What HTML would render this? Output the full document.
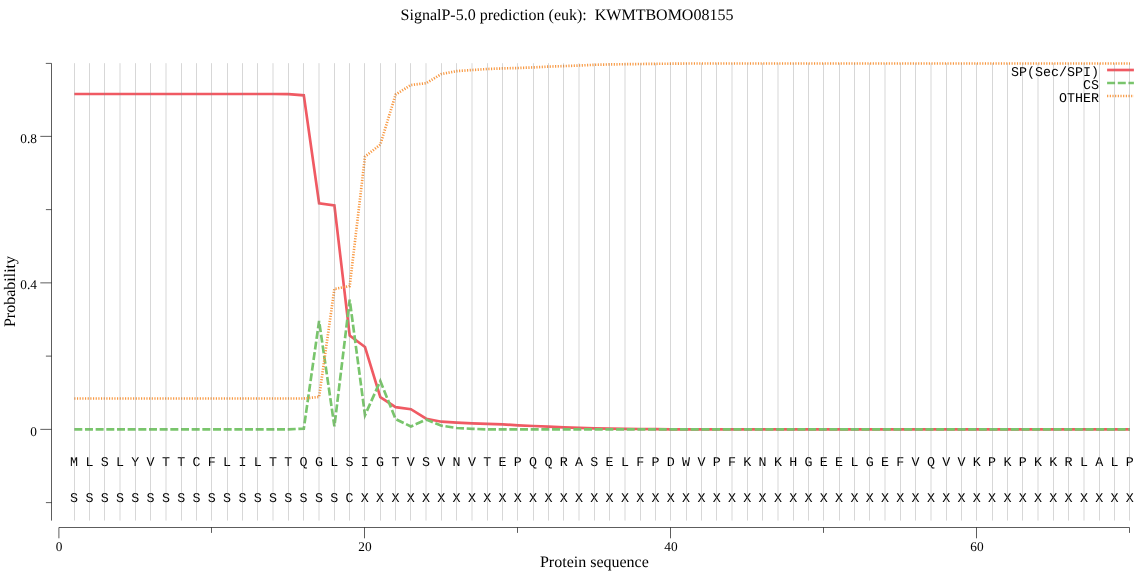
<!DOCTYPE html>
<html lang="en">
<head>
<meta charset="utf-8">
<title>SignalP-5.0 prediction (euk): KWMTBOMO08155</title>
<style>
html,body{margin:0;padding:0;background:#fff;}
body{width:1139px;height:572px;overflow:hidden;}
svg{display:block;text-rendering:geometricPrecision;}
.serif{font-family:"Liberation Serif","Times New Roman",serif;fill:#000;}
.mono{font-family:"Liberation Mono","Courier New",monospace;fill:#000;}
</style>
</head>
<body>
<svg width="1139" height="572" viewBox="0 0 1139 572" text-rendering="geometricPrecision">
<rect x="0" y="0" width="1139" height="572" fill="#ffffff"/>
<path d="M45.8,63.4H51.5V520.6M40.30,136.37H51.5M45.90,209.62H51.5M40.30,282.87H51.5M45.90,356.12H51.5M40.30,429.37H51.5M45.90,502.62H51.5M58.9,538.3V527.5H1129.5V532.9M211.50,527.5V532.9M364.50,527.5V538.3M517.50,527.5V532.9M670.50,527.5V538.3M823.50,527.5V532.9M976.50,527.5V538.3" stroke="#000" stroke-width="0.64" fill="none"/>
<g class="serif" font-size="13.33">
<text x="37" y="142.9" text-anchor="end">0.8</text>
<text x="37" y="289.4" text-anchor="end">0.4</text>
<text x="37" y="435.9" text-anchor="end">0</text>
<text x="59.0" y="551.1" text-anchor="middle">0</text>
<text x="365.0" y="551.1" text-anchor="middle">20</text>
<text x="671.0" y="551.1" text-anchor="middle">40</text>
<text x="977.0" y="551.1" text-anchor="middle">60</text>
</g>
<text class="serif" font-size="16" x="567" y="20.2" text-anchor="middle" style="white-space:pre">SignalP-5.0 prediction (euk):  KWMTBOMO08155</text>
<text class="serif" font-size="16" x="594.4" y="566.6" text-anchor="middle">Protein sequence</text>
<text class="serif" font-size="16" transform="translate(15.4,291.5) rotate(-90)" text-anchor="middle">Probability</text>
<g fill="none" stroke-width="2.67" stroke-linejoin="miter">
<path d="M74.30,94.0 L89.60,94.0 L104.90,94.0 L120.20,94.0 L135.50,94.0 L150.80,94.0 L166.10,94.0 L181.40,94.0 L196.70,94.0 L212.00,94.0 L227.30,94.0 L242.60,94.0 L257.90,94.0 L273.20,94.0 L288.50,94.2 L303.80,95.3 L319.10,203.3 L334.40,205.5 L349.70,335.6 L365.00,347.0 L380.30,397.1 L395.60,407.1 L410.90,409.2 L426.20,418.7 L441.50,421.7 L456.80,422.6 L472.10,423.4 L487.40,423.9 L502.70,424.4 L518.00,425.3 L533.30,426.0 L548.60,426.7 L563.90,427.3 L579.20,427.8 L594.50,428.3 L609.80,428.6 L625.10,428.8 L640.40,429.0 L655.70,429.2 L671.00,429.3 L686.30,429.3 L701.60,429.3 L716.90,429.3 L732.20,429.3 L747.50,429.3 L762.80,429.3 L778.10,429.3 L793.40,429.3 L808.70,429.3 L824.00,429.3 L839.30,429.3 L854.60,429.3 L869.90,429.3 L885.20,429.3 L900.50,429.3 L915.80,429.3 L931.10,429.3 L946.40,429.3 L961.70,429.3 L977.00,429.3 L992.30,429.3 L1007.60,429.3 L1022.90,429.3 L1038.20,429.3 L1053.50,429.3 L1068.80,429.3 L1084.10,429.3 L1099.40,429.3 L1114.70,429.3 L1130.00,429.3" stroke="#f05a63"/>
<path d="M74.30,429.4 L89.60,429.4 L104.90,429.4 L120.20,429.4 L135.50,429.4 L150.80,429.4 L166.10,429.4 L181.40,429.4 L196.70,429.4 L212.00,429.4 L227.30,429.4 L242.60,429.4 L257.90,429.4 L273.20,429.4 L288.50,429.4 L303.80,428.6 L319.10,321.0 L334.40,426.4 L349.70,299.7 L365.00,415.2 L380.30,381.0 L395.60,419.0 L410.90,426.5 L426.20,419.6 L441.50,425.7 L456.80,428.0 L472.10,428.8 L487.40,429.4 L502.70,429.4 L518.00,429.4 L533.30,429.4 L548.60,429.4 L563.90,429.4 L579.20,429.4 L594.50,429.4 L609.80,429.4 L625.10,429.4 L640.40,429.4 L655.70,429.4 L671.00,429.4 L686.30,429.4 L701.60,429.4 L716.90,429.4 L732.20,429.4 L747.50,429.4 L762.80,429.4 L778.10,429.4 L793.40,429.4 L808.70,429.4 L824.00,429.4 L839.30,429.4 L854.60,429.4 L869.90,429.4 L885.20,429.4 L900.50,429.4 L915.80,429.4 L931.10,429.4 L946.40,429.4 L961.70,429.4 L977.00,429.4 L992.30,429.4 L1007.60,429.4 L1022.90,429.4 L1038.20,429.4 L1053.50,429.4 L1068.80,429.4 L1084.10,429.4 L1099.40,429.4 L1114.70,429.4 L1130.00,429.4" stroke="#79c56c" stroke-dasharray="8 2.67"/>
<path d="M74.30,398.5 L89.60,398.5 L104.90,398.5 L120.20,398.5 L135.50,398.5 L150.80,398.5 L166.10,398.5 L181.40,398.5 L196.70,398.5 L212.00,398.5 L227.30,398.5 L242.60,398.5 L257.90,398.5 L273.20,398.5 L288.50,398.5 L303.80,398.5 L319.10,396.9 L334.40,288.9 L349.70,286.1 L365.00,156.6 L380.30,144.6 L395.60,94.6 L410.90,85.0 L426.20,83.2 L441.50,74.0 L456.80,71.1 L472.10,70.0 L487.40,69.0 L502.70,68.4 L518.00,68.0 L533.30,67.4 L548.60,66.6 L563.90,66.1 L579.20,65.5 L594.50,64.8 L609.80,64.4 L625.10,64.2 L640.40,64.0 L655.70,63.8 L671.00,63.7 L686.30,63.5 L701.60,63.5 L716.90,63.5 L732.20,63.5 L747.50,63.5 L762.80,63.5 L778.10,63.5 L793.40,63.5 L808.70,63.5 L824.00,63.5 L839.30,63.5 L854.60,63.5 L869.90,63.5 L885.20,63.5 L900.50,63.5 L915.80,63.5 L931.10,63.5 L946.40,63.5 L961.70,63.5 L977.00,63.5 L992.30,63.5 L1007.60,63.5 L1022.90,63.5 L1038.20,63.5 L1053.50,63.5 L1068.80,63.5 L1084.10,63.5 L1099.40,63.5 L1114.70,63.5 L1130.00,63.5" stroke="#f8973f" stroke-dasharray="1.15 1.52"/>
<path d="M1107.1,70.0H1133.9" stroke="#f05a63"/>
<path d="M1107.1,83.0H1133.9" stroke="#79c56c" stroke-dasharray="8 2.67"/>
<path d="M1107.1,96.0H1133.9" stroke="#f8973f" stroke-dasharray="1.15 1.52"/>
</g>
<g class="mono" font-size="13.33" text-anchor="middle">
<text x="74.1" y="465.5">M</text><text x="89.4" y="465.5">L</text><text x="104.7" y="465.5">S</text><text x="120.0" y="465.5">L</text><text x="135.3" y="465.5">Y</text><text x="150.6" y="465.5">V</text><text x="165.9" y="465.5">T</text><text x="181.2" y="465.5">T</text><text x="196.5" y="465.5">C</text><text x="211.8" y="465.5">F</text><text x="227.1" y="465.5">L</text><text x="242.4" y="465.5">I</text><text x="257.7" y="465.5">L</text><text x="273.0" y="465.5">T</text><text x="288.3" y="465.5">T</text><text x="303.6" y="465.5">Q</text><text x="318.9" y="465.5">G</text><text x="334.2" y="465.5">L</text><text x="349.5" y="465.5">S</text><text x="364.8" y="465.5">I</text><text x="380.1" y="465.5">G</text><text x="395.4" y="465.5">T</text><text x="410.7" y="465.5">V</text><text x="426.0" y="465.5">S</text><text x="441.3" y="465.5">V</text><text x="456.6" y="465.5">N</text><text x="471.9" y="465.5">V</text><text x="487.2" y="465.5">T</text><text x="502.5" y="465.5">E</text><text x="517.8" y="465.5">P</text><text x="533.1" y="465.5">Q</text><text x="548.4" y="465.5">Q</text><text x="563.7" y="465.5">R</text><text x="579.0" y="465.5">A</text><text x="594.3" y="465.5">S</text><text x="609.6" y="465.5">E</text><text x="624.9" y="465.5">L</text><text x="640.2" y="465.5">F</text><text x="655.5" y="465.5">P</text><text x="670.8" y="465.5">D</text><text x="686.1" y="465.5">W</text><text x="701.4" y="465.5">V</text><text x="716.7" y="465.5">P</text><text x="732.0" y="465.5">F</text><text x="747.3" y="465.5">K</text><text x="762.6" y="465.5">N</text><text x="777.9" y="465.5">K</text><text x="793.2" y="465.5">H</text><text x="808.5" y="465.5">G</text><text x="823.8" y="465.5">E</text><text x="839.1" y="465.5">E</text><text x="854.4" y="465.5">L</text><text x="869.7" y="465.5">G</text><text x="885.0" y="465.5">E</text><text x="900.3" y="465.5">F</text><text x="915.6" y="465.5">V</text><text x="930.9" y="465.5">Q</text><text x="946.2" y="465.5">V</text><text x="961.5" y="465.5">V</text><text x="976.8" y="465.5">K</text><text x="992.1" y="465.5">P</text><text x="1007.4" y="465.5">K</text><text x="1022.7" y="465.5">P</text><text x="1038.0" y="465.5">K</text><text x="1053.3" y="465.5">K</text><text x="1068.6" y="465.5">R</text><text x="1083.9" y="465.5">L</text><text x="1099.2" y="465.5">A</text><text x="1114.5" y="465.5">L</text><text x="1129.8" y="465.5">P</text>
<text x="74.1" y="502.0">S</text><text x="89.4" y="502.0">S</text><text x="104.7" y="502.0">S</text><text x="120.0" y="502.0">S</text><text x="135.3" y="502.0">S</text><text x="150.6" y="502.0">S</text><text x="165.9" y="502.0">S</text><text x="181.2" y="502.0">S</text><text x="196.5" y="502.0">S</text><text x="211.8" y="502.0">S</text><text x="227.1" y="502.0">S</text><text x="242.4" y="502.0">S</text><text x="257.7" y="502.0">S</text><text x="273.0" y="502.0">S</text><text x="288.3" y="502.0">S</text><text x="303.6" y="502.0">S</text><text x="318.9" y="502.0">S</text><text x="334.2" y="502.0">S</text><text x="349.5" y="502.0">C</text><text x="364.8" y="502.0">X</text><text x="380.1" y="502.0">X</text><text x="395.4" y="502.0">X</text><text x="410.7" y="502.0">X</text><text x="426.0" y="502.0">X</text><text x="441.3" y="502.0">X</text><text x="456.6" y="502.0">X</text><text x="471.9" y="502.0">X</text><text x="487.2" y="502.0">X</text><text x="502.5" y="502.0">X</text><text x="517.8" y="502.0">X</text><text x="533.1" y="502.0">X</text><text x="548.4" y="502.0">X</text><text x="563.7" y="502.0">X</text><text x="579.0" y="502.0">X</text><text x="594.3" y="502.0">X</text><text x="609.6" y="502.0">X</text><text x="624.9" y="502.0">X</text><text x="640.2" y="502.0">X</text><text x="655.5" y="502.0">X</text><text x="670.8" y="502.0">X</text><text x="686.1" y="502.0">X</text><text x="701.4" y="502.0">X</text><text x="716.7" y="502.0">X</text><text x="732.0" y="502.0">X</text><text x="747.3" y="502.0">X</text><text x="762.6" y="502.0">X</text><text x="777.9" y="502.0">X</text><text x="793.2" y="502.0">X</text><text x="808.5" y="502.0">X</text><text x="823.8" y="502.0">X</text><text x="839.1" y="502.0">X</text><text x="854.4" y="502.0">X</text><text x="869.7" y="502.0">X</text><text x="885.0" y="502.0">X</text><text x="900.3" y="502.0">X</text><text x="915.6" y="502.0">X</text><text x="930.9" y="502.0">X</text><text x="946.2" y="502.0">X</text><text x="961.5" y="502.0">X</text><text x="976.8" y="502.0">X</text><text x="992.1" y="502.0">X</text><text x="1007.4" y="502.0">X</text><text x="1022.7" y="502.0">X</text><text x="1038.0" y="502.0">X</text><text x="1053.3" y="502.0">X</text><text x="1068.6" y="502.0">X</text><text x="1083.9" y="502.0">X</text><text x="1099.2" y="502.0">X</text><text x="1114.5" y="502.0">X</text><text x="1129.8" y="502.0">X</text>
</g>
<path d="M74.5,63.2V520.6M89.5,63.2V520.6M104.5,63.2V520.6M120.0,63.2V520.6M135.5,63.2V520.6M150.5,63.2V520.6M166.0,63.2V520.6M181.5,63.2V520.6M196.5,63.2V520.6M211.5,63.2V520.6M227.5,63.2V520.6M242.5,63.2V520.6M257.5,63.2V520.6M273.0,63.2V520.6M288.5,63.2V520.6M303.5,63.2V520.6M319.0,63.2V520.6M334.5,63.2V520.6M349.5,63.2V520.6M364.5,63.2V520.6M380.5,63.2V520.6M395.5,63.2V520.6M410.5,63.2V520.6M426.0,63.2V520.6M441.5,63.2V520.6M456.5,63.2V520.6M472.0,63.2V520.6M487.5,63.2V520.6M502.5,63.2V520.6M517.5,63.2V520.6M533.5,63.2V520.6M548.5,63.2V520.6M563.5,63.2V520.6M579.0,63.2V520.6M594.5,63.2V520.6M609.5,63.2V520.6M625.0,63.2V520.6M640.5,63.2V520.6M655.5,63.2V520.6M670.5,63.2V520.6M686.5,63.2V520.6M701.5,63.2V520.6M716.5,63.2V520.6M732.0,63.2V520.6M747.5,63.2V520.6M762.5,63.2V520.6M778.0,63.2V520.6M793.5,63.2V520.6M808.5,63.2V520.6M823.5,63.2V520.6M839.5,63.2V520.6M854.5,63.2V520.6M869.5,63.2V520.6M885.0,63.2V520.6M900.5,63.2V520.6M915.5,63.2V520.6M931.0,63.2V520.6M946.5,63.2V520.6M961.5,63.2V520.6M976.5,63.2V520.6M992.5,63.2V520.6M1007.5,63.2V520.6M1022.5,63.2V520.6M1038.0,63.2V520.6M1053.5,63.2V520.6M1068.5,63.2V520.6M1084.0,63.2V520.6M1099.5,63.2V520.6M1114.5,63.2V520.6M1129.5,63.2V520.6" stroke="#868686" stroke-opacity="0.33" stroke-width="1" fill="none"/>
<g class="mono" font-size="13.33" text-anchor="end">
<text x="1098.9" y="76.2">SP(Sec/SPI)</text>
<text x="1098.9" y="89.3">CS</text>
<text x="1098.9" y="102.4">OTHER</text>
</g>
</svg>
</body>
</html>
